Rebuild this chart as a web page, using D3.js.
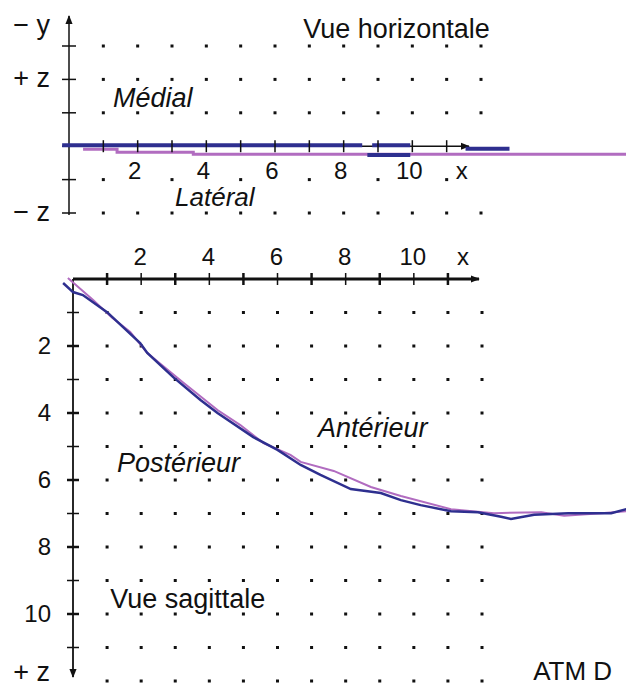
<!DOCTYPE html>
<html lang="fr">
<head>
<meta charset="UTF-8">
<title>ATM D - Vue horizontale / Vue sagittale</title>
<script src="https://d3js.org/d3.v7.min.js"></script>
<style>
  body { margin: 0; background: #fff; }
  text { font-family: "Liberation Sans", Arial, Helvetica, sans-serif; fill: #111; }
</style>
</head>
<body>
<svg width="626" height="689"></svg>
<script>
// grid / ticks
const gridCols = d3.range(1, 13);
const axisTicks = d3.range(1, 12);
const xTickLabels = [2, 4, 6, 8, 10];
const topRows = [3, 2, 1, -1, -2];
const sagRows = d3.range(1, 13);
const sagTickLabels = [2, 4, 6, 8, 10];

// Vue horizontale traces: [x, lateral]
const purpleHoriz = [[0.41, -0.09], [1.4, -0.18], [3.62, -0.24], [16.3, -0.24]];
const blueHoriz = [
  [[-0.2, 0.03], [8.54, 0.03]],
  [[8.83, 0.03], [9.94, 0.03]],
  [[8.69, -0.26], [9.94, -0.26]],
  [[11.55, -0.08], [12.83, -0.08]]
];

// Vue sagittale traces: [x, z]
const blueSag = [
  [-0.29, 0.12], [0, 0.39], [0.29, 0.48], [1.0, 0.99], [1.97, 1.91], [2.18, 2.21],
  [2.94, 2.93], [3.74, 3.61], [4.24, 4.0], [5.29, 4.72], [6.0, 5.1], [6.68, 5.55],
  [7.26, 5.85], [8.15, 6.27], [9.03, 6.39], [9.62, 6.6], [10.2, 6.75], [11.09, 6.93],
  [11.88, 6.96], [12.56, 7.1], [12.85, 7.16], [13.53, 7.04], [14.53, 6.99],
  [15.79, 6.99], [16.24, 6.87]
];
const purpleSag = [
  [-0.15, -0.03], [0.59, 0.63], [1.15, 1.16], [1.68, 1.58], [2.18, 2.21], [3.24, 3.1],
  [4.24, 3.91], [4.91, 4.36], [5.59, 4.9], [6.38, 5.25], [6.68, 5.46], [7.65, 5.73],
  [8.74, 6.21], [9.62, 6.48], [11.09, 6.87], [12.35, 6.99], [13.74, 6.96],
  [14.41, 7.07], [15.5, 6.99], [16.24, 6.93]
];

const blue = "#2e2f8f", purple = "#b16cc0";

const svg = d3.select("svg");

svg.append("defs").append("marker")
  .attr("id", "arrow")
  .attr("viewBox", "0 -5 10 10")
  .attr("refX", 9).attr("refY", 0)
  .attr("markerWidth", 9).attr("markerHeight", 9)
  .attr("markerUnits", "userSpaceOnUse")
  .attr("orient", "auto")
  .append("path")
  .attr("d", "M0,-4L10,0L0,4Z")
  .attr("fill", "#111");

// ---------- Vue horizontale ----------
const xTop = d3.scaleLinear().domain([0, 12]).range([69, 481]);
const yTop = d3.scaleLinear().domain([-2, 3]).range([213, 46]);
const horiz = svg.append("g");

// dots
topRows.forEach(r => {
  const cols = r === -1 ? gridCols.filter(c => c % 2 === 1) : gridCols;
  horiz.selectAll(null).data(cols).enter().append("rect")
    .attr("x", d => xTop(d) - 1.5).attr("y", yTop(r) - 1.5)
    .attr("width", 3).attr("height", 3).attr("fill", "#111");
});

// axes
horiz.append("line")
  .attr("x1", xTop(0)).attr("x2", xTop(0))
  .attr("y1", yTop(-2) + 2).attr("y2", 16)
  .attr("stroke", "#111").attr("stroke-width", 1.5)
  .attr("marker-end", "url(#arrow)");
horiz.selectAll(null).data(topRows).enter().append("line")
  .attr("x1", xTop(0) - 7).attr("x2", xTop(0) + 7)
  .attr("y1", d => yTop(d)).attr("y2", d => yTop(d))
  .attr("stroke", "#111").attr("stroke-width", 1.5);

horiz.append("line")
  .attr("x1", xTop(-0.2)).attr("x2", 469)
  .attr("y1", yTop(0)).attr("y2", yTop(0))
  .attr("stroke", "#111").attr("stroke-width", 1.5)
  .attr("marker-end", "url(#arrow)");

// traces
const horizLine = d3.line().x(d => xTop(d[0])).y(d => yTop(d[1]));
horiz.append("path")
  .attr("d", horizLine.curve(d3.curveStepAfter)(purpleHoriz))
  .attr("fill", "none").attr("stroke", purple).attr("stroke-width", 3);
horizLine.curve(d3.curveLinear);
blueHoriz.forEach(seg => {
  horiz.append("path")
    .attr("d", horizLine(seg))
    .attr("fill", "none").attr("stroke", blue).attr("stroke-width", 4);
});

// ticks over traces
horiz.selectAll(null).data(axisTicks).enter().append("line")
  .attr("x1", d => xTop(d)).attr("x2", d => xTop(d))
  .attr("y1", yTop(0) - 6).attr("y2", yTop(0) + 6)
  .attr("stroke", "#111").attr("stroke-width", 1.5);

horiz.selectAll(null).data(xTickLabels).enter().append("text")
  .attr("x", d => xTop(d) - 3).attr("y", yTop(0) + 33)
  .attr("text-anchor", "middle").style("font-size", "24px").text(d => d);
horiz.append("text").attr("x", xTop(11.5) - 2).attr("y", yTop(0) + 33)
  .attr("text-anchor", "middle").style("font-size", "24px").text("x");

horiz.append("text").attr("x", 50).attr("y", 34).attr("text-anchor", "end")
  .style("font-size", "27px").text("− y");
horiz.append("text").attr("x", 50).attr("y", yTop(2) + 8).attr("text-anchor", "end")
  .style("font-size", "27px").text("+ z");
horiz.append("text").attr("x", 50).attr("y", yTop(-2) + 8).attr("text-anchor", "end")
  .style("font-size", "27px").text("− z");

horiz.append("text").attr("x", xTop(6.82)).attr("y", yTop(3.25))
  .style("font-size", "27px").text("Vue horizontale");
horiz.append("text").attr("x", xTop(1.28)).attr("y", yTop(1.16))
  .style("font-size", "27px").style("font-style", "italic").text("Médial");
horiz.append("text").attr("x", xTop(3.09)).attr("y", yTop(-1.8))
  .style("font-size", "26px").style("font-style", "italic").text("Latéral");

// ---------- Vue sagittale ----------
const xSag = d3.scaleLinear().domain([0, 12]).range([73, 482]);
const ySag = d3.scaleLinear().domain([0, 12]).range([279, 681]);
const sag = svg.append("g");

sagRows.forEach(r => {
  sag.selectAll(null).data(gridCols).enter().append("rect")
    .attr("x", d => xSag(d) - 1.5).attr("y", ySag(r) - 1.5)
    .attr("width", 3).attr("height", 3).attr("fill", "#111");
});

sag.append("line")
  .attr("x1", xSag(0)).attr("x2", 479)
  .attr("y1", ySag(0)).attr("y2", ySag(0))
  .attr("stroke", "#111").attr("stroke-width", 3)
  .attr("marker-end", "url(#arrow)");
sag.append("line")
  .attr("x1", xSag(0)).attr("x2", xSag(0))
  .attr("y1", ySag(0)).attr("y2", 677)
  .attr("stroke", "#111").attr("stroke-width", 1.8)
  .attr("marker-end", "url(#arrow)");

sag.selectAll(null).data(axisTicks).enter().append("line")
  .attr("x1", d => xSag(d)).attr("x2", d => xSag(d))
  .attr("y1", ySag(0) - 6).attr("y2", ySag(0) + 6)
  .attr("stroke", "#111").attr("stroke-width", d => d % 2 ? 2.5 : 1.5);
sag.selectAll(null).data(axisTicks).enter().append("line")
  .attr("x1", xSag(0) - 6).attr("x2", xSag(0) + 6)
  .attr("y1", d => ySag(d)).attr("y2", d => ySag(d))
  .attr("stroke", "#111").attr("stroke-width", d => d % 2 ? 1.5 : 2.5);

sag.selectAll(null).data(xTickLabels).enter().append("text")
  .attr("x", d => xSag(d) - 1).attr("y", ySag(0) - 14)
  .attr("text-anchor", "middle").style("font-size", "24px").text(d => d);
sag.append("text").attr("x", xSag(11.5) - 2).attr("y", ySag(0) - 14)
  .attr("text-anchor", "middle").style("font-size", "24px").text("x");

sag.selectAll(null).data(sagTickLabels).enter().append("text")
  .attr("x", 51).attr("y", d => ySag(d) + 8)
  .attr("text-anchor", "end").style("font-size", "24px").text(d => d);
sag.append("text").attr("x", 50).attr("y", 681).attr("text-anchor", "end")
  .style("font-size", "27px").text("+ z");

const sagLine = d3.line().x(d => xSag(d[0])).y(d => ySag(d[1]));
sag.append("path").attr("d", sagLine(purpleSag))
  .attr("fill", "none").attr("stroke", purple).attr("stroke-width", 2);
sag.append("path").attr("d", sagLine(blueSag))
  .attr("fill", "none").attr("stroke", blue).attr("stroke-width", 2.5);

sag.append("text").attr("x", xSag(7.19)).attr("y", ySag(4.72))
  .style("font-size", "27px").style("font-style", "italic").text("Antérieur");
sag.append("text").attr("x", xSag(1.29)).attr("y", ySag(5.76))
  .style("font-size", "27px").style("font-style", "italic").text("Postérieur");
sag.append("text").attr("x", xSag(1.09)).attr("y", ySag(9.82))
  .style("font-size", "27px").text("Vue sagittale");
sag.append("text").attr("x", xSag(13.5)).attr("y", ySag(12.0) - 1)
  .style("font-size", "26px").text("ATM D");
</script>
</body>
</html>
